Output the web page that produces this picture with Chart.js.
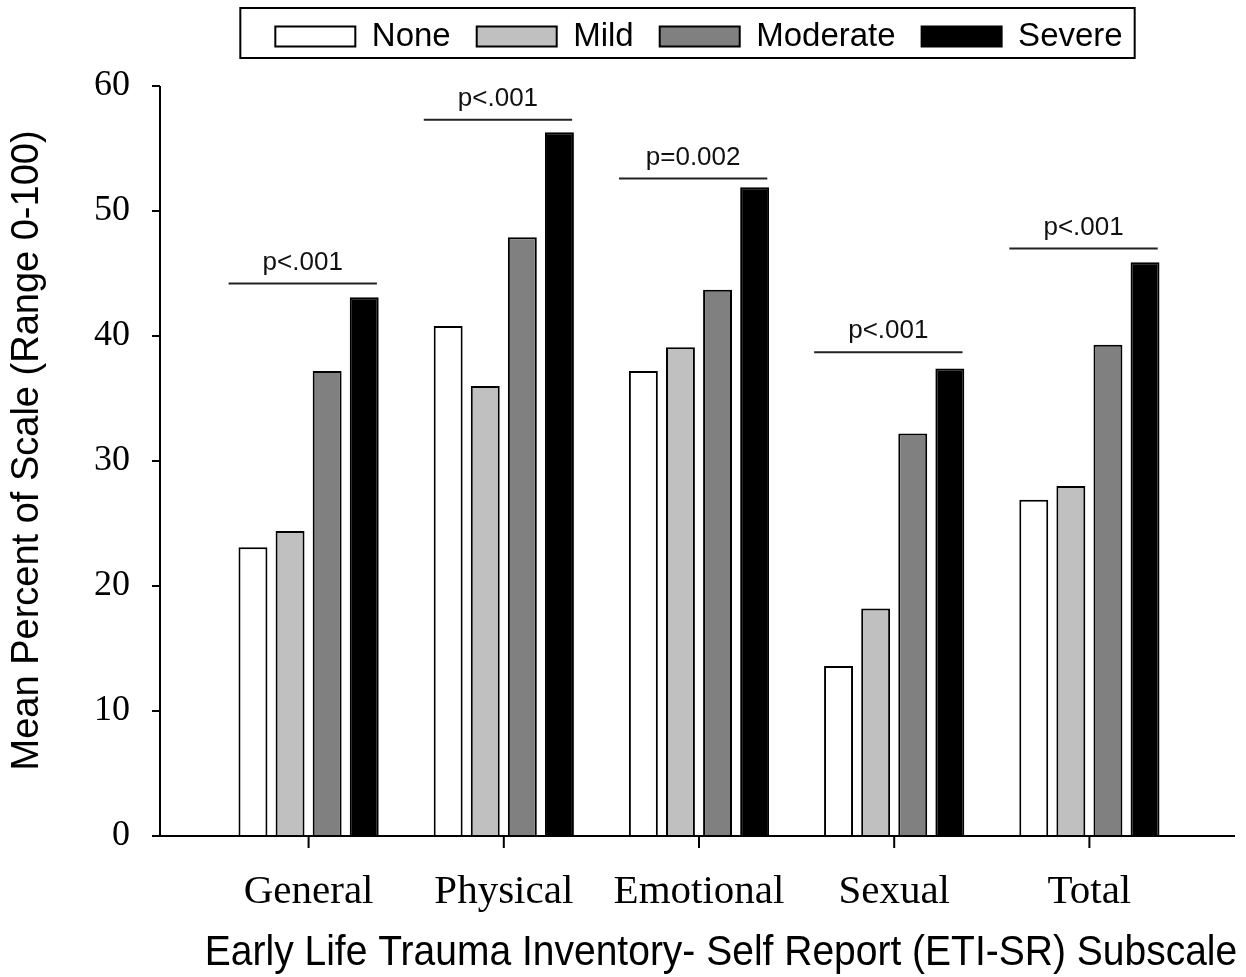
<!DOCTYPE html>
<html>
<head>
<meta charset="utf-8">
<script src="https://cdn.jsdelivr.net/npm/chart.js@4.4.1/dist/chart.umd.min.js"></script>
<style>
html,body{margin:0;padding:0;background:#fff;}
#wrap{width:1246px;height:977px;position:relative;}
</style>
</head>
<body>
<div id="wrap"><canvas id="c"></canvas></div>
<script>
// ---- data ----
const categories = ['General', 'Physical', 'Emotional', 'Sexual', 'Total'];
const seriesNames = ['None', 'Mild', 'Moderate', 'Severe'];
const noneValues = [23.1, 40.8, 37.2, 13.6, 26.9];
const mildValues = [24.4, 36.0, 39.1, 18.2, 28.0];
const moderateValues = [37.2, 47.9, 43.7, 32.2, 39.3];
const severeValues = [43.1, 56.3, 51.9, 37.4, 45.9];
const yTicks = [0, 10, 20, 30, 40, 50, 60];
const sigLabels = ['p<.001', 'p<.001', 'p=0.002', 'p<.001', 'p<.001'];
const sigLevels = [44.2, 57.3, 52.6, 38.7, 47.0];
const yTitle = 'Mean Percent of Scale (Range 0-100)';
const xTitle = 'Early Life Trauma Inventory- Self Report (ETI-SR) Subscale';

const fills = ['#ffffff', '#c0c0c0', '#808080', '#000000'];
const seriesValues = [noneValues, mildValues, moderateValues, severeValues];

const SANS = '"Liberation Sans", Arial, sans-serif';
const SERIF = '"Liberation Serif", "Times New Roman", serif';

const decorPlugin = {
  id: 'decor',
  beforeInit(chart) {
    const lg = chart.legend;
    if (lg) {
      const f = lg.fit;
      lg.fit = function () { f.call(this); this.height = 86; };
    }
  },
  afterLayout(chart) {
    const lg = chart.legend;
    if (lg) {
      const d = -6 - lg.top;
      lg.top += d;
      lg.bottom += d;
    }
  },
  afterDraw(chart) {
    const { ctx, chartArea: a, scales: { x, y } } = chart;
    const axX = a.left - 51;
    const y0 = y.getPixelForValue(0);
    const yTop = y.getPixelForValue(60);
    ctx.save();
    ctx.strokeStyle = '#000';
    ctx.lineWidth = 2;
    ctx.beginPath();
    ctx.moveTo(axX, yTop); ctx.lineTo(axX, y0);
    ctx.moveTo(axX - 8, y0); ctx.lineTo(a.right + 48, y0);
    yTicks.forEach(v => { const p = y.getPixelForValue(v); ctx.moveTo(axX - 8, p); ctx.lineTo(axX, p); });
    categories.forEach((c, i) => { const p = x.getPixelForValue(i); ctx.moveTo(p, y0); ctx.lineTo(p, y0 + 12); });
    ctx.stroke();

    // significance bars
    const catW = x.getPixelForValue(1) - x.getPixelForValue(0);
    ctx.font = '26px ' + SANS;
    ctx.textAlign = 'center';
    ctx.textBaseline = 'alphabetic';
    ctx.fillStyle = '#111';
    ctx.strokeStyle = '#222';
    sigLabels.forEach((t, i) => {
      const c = x.getPixelForValue(i);
      const py = y.getPixelForValue(sigLevels[i]);
      const l = c - 0.41 * catW, r = c + 0.35 * catW;
      ctx.beginPath(); ctx.moveTo(l, py); ctx.lineTo(r, py); ctx.stroke();
      ctx.fillText(t, (l + r) / 2, py - 14);
    });

    // x axis title
    ctx.save();
    ctx.translate((a.left + a.right) / 2 + 22, 953);
    ctx.scale(1, 1.08);
    ctx.font = '39px ' + SANS;
    ctx.fillStyle = '#000';
    ctx.textAlign = 'center';
    ctx.textBaseline = 'middle';
    ctx.fillText(xTitle, 0, 0);
    ctx.restore();

    // legend frame
    const lg = chart.legend;
    const hb = lg && lg.legendHitBoxes;
    if (hb && hb.length) {
      const last = hb[hb.length - 1];
      const L = hb[0].left - 35, R = last.left + last.width + 12;
      const T = lg.top + 14, B = lg.top + 64;
      ctx.strokeStyle = '#000';
      ctx.lineWidth = 2;
      ctx.strokeRect(L, T, R - L, B - T);
    }
    ctx.restore();
  }
};

new Chart(document.getElementById('c'), {
  type: 'bar',
  data: {
    labels: categories,
    datasets: seriesNames.map((n, k) => ({
      label: n,
      data: seriesValues[k],
      backgroundColor: fills[k],
      borderColor: '#000',
      borderWidth: 2,
      categoryPercentage: 0.76,
      barPercentage: 0.78
    }))
  },
  options: {
    responsive: true,
    maintainAspectRatio: false,
    animation: false,
    devicePixelRatio: 1,
    layout: { padding: { top: 0, right: 59, left: 0, bottom: 0 } },
    plugins: {
      tooltip: { enabled: false },
      legend: {
        display: true,
        position: 'top',
        fullSize: false,
        labels: {
          boxWidth: 80,
          boxHeight: 20,
          padding: 26,
          color: '#000',
          font: { family: SANS, size: 33 }
        }
      }
    },
    scales: {
      x: {
        grid: { display: false, drawTicks: false },
        border: { display: false },
        ticks: { color: '#000', font: { family: SERIF, size: 41 }, padding: 32 },
        title: { display: false, text: xTitle },
        afterFit: s => { s.height = 141; }
      },
      y: {
        min: 0,
        max: 60,
        grid: { display: false, drawTicks: false },
        border: { display: false },
        ticks: { stepSize: 10, color: '#000', font: { family: SERIF, size: 36 }, padding: 81 },
        title: { display: true, text: '  ' + yTitle, color: '#000', font: { family: SANS, size: 38 }, padding: { top: 5, bottom: 0 } },
        afterFit: s => { s.width = 211; s.paddingTop = 0; s.paddingBottom = 0; }
      }
    }
  },
  plugins: [decorPlugin]
});
</script>
</body>
</html>
